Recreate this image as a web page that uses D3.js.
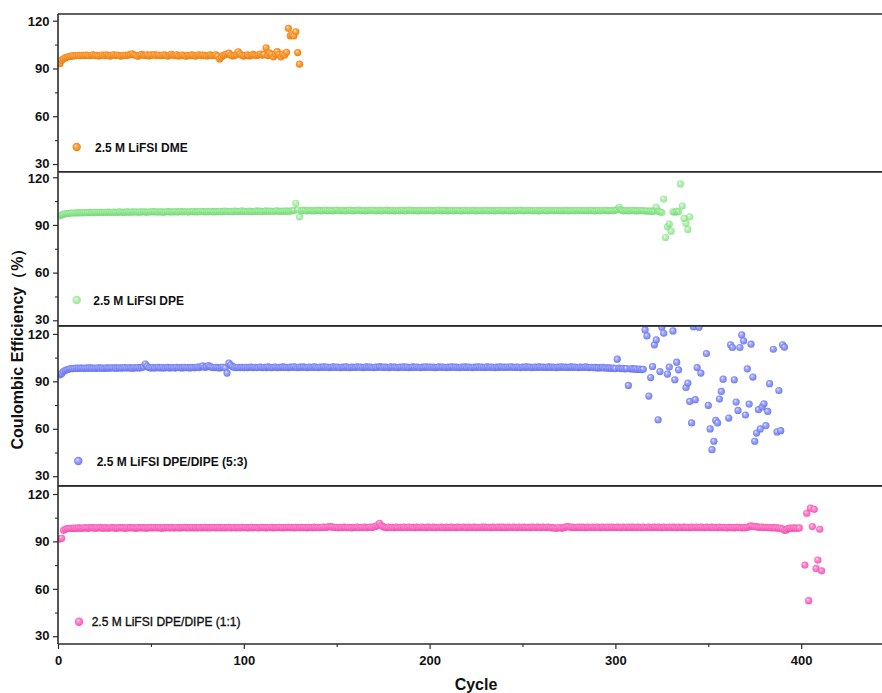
<!DOCTYPE html>
<html>
<head>
<meta charset="utf-8">
<script src="https://cdn.jsdelivr.net/npm/d3@7"></script>
<style>
  body { margin: 0; background: #fff; }
  svg text { font-family: "Liberation Sans", Arial, sans-serif; }
</style>
</head>
<body>
<svg id="chart" width="882" height="693"></svg>
<script>
// Coulombic efficiency (%) per cycle, index 0 = cycle 1; null = no visible point
const dmeCE = [
  93.0, 95.2, 96.1, 96.8, 97.2, 97.5, 97.7, 97.9, 98.0, 98.1,
  98.2, 98.0, 98.3, 98.1, 98.4, 98.2, 98.0, 98.3, 98.5, 98.1,
  98.2, 97.9, 98.3, 98.4, 98.1, 98.6, 98.2, 97.8, 98.3, 98.5,
  98.1, 98.4, 98.0, 97.8, 98.2, 98.3, 98.1, 98.5, 98.7, 99.2,
  98.6, 98.1, 97.6, 98.3, 98.8, 98.4, 98.2, 98.6, 97.9, 98.5,
  98.3, 98.7, 98.1, 98.4, 98.0, 98.3, 98.6, 98.2, 97.8, 98.4,
  98.9, 98.3, 98.1, 98.5, 97.9, 98.2, 98.4, 98.0, 97.6, 98.3,
  98.1, 98.5, 98.2, 97.8, 98.3, 98.6, 98.1, 98.4, 98.2, 97.9,
  98.3, 98.5, 98.0, 98.2, 98.6, 97.7, 96.0, 97.2, 98.3, 98.7,
  99.2, 99.6, 98.4, 97.9, 98.2, 98.8, 100.5, 99.1, 98.3, 97.8,
  98.2, 98.6, 97.9, 98.3, 98.8, 98.4, 98.1, 98.6, 99.1, 98.4,
  98.8, 103.0, 98.2, 99.6, 98.7, 97.3, 99.2, 100.6, 98.6, 97.3,
  99.0, 98.4, 100.2, 115.2, 110.5, 111.2, 110.5, 113.0, 100.0, 92.7
];

const dpeCE = [
  95.6, 96.3, 96.8, 97.0, 97.2, 97.3, 97.4, 97.5, 97.5, 97.6,
  97.6, 97.7, 97.6, 97.8, 97.7, 97.8, 97.9, 97.7, 97.8, 97.9,
  97.8, 98.0, 97.9, 97.8, 98.0, 97.9, 98.1, 97.9, 98.0, 98.1,
  97.9, 98.0, 98.2, 98.0, 98.1, 97.9, 98.2, 98.1, 98.0, 98.2,
  98.1, 98.3, 98.0, 98.2, 98.1, 98.3, 98.2, 98.0, 98.3, 98.1,
  98.4, 98.2, 98.3, 98.1, 98.3, 98.2, 98.0, 98.3, 98.4, 98.2,
  98.3, 98.1, 98.4, 98.2, 98.3, 98.5, 98.2, 98.4, 98.3, 98.1,
  98.4, 98.3, 98.5, 98.2, 98.4, 98.3, 98.6, 98.4, 98.2, 98.5,
  98.3, 98.6, 98.4, 98.2, 98.5, 98.4, 98.6, 98.3, 98.5, 98.7,
  98.4, 98.6, 98.5, 98.3, 98.7, 98.5, 98.4, 98.6, 98.8, 98.5,
  98.6, 98.4, 98.7, 98.5, 98.3, 98.6, 98.8, 98.5, 98.7, 98.4,
  98.6, 98.8, 98.5, 98.7, 98.6, 98.4, 98.7, 98.9, 98.6, 98.5,
  98.7, 98.6, 98.8, 98.5, 98.7, 98.9, 99.2, 103.6, 99.4, 95.1,
  98.8, 99.3, 99.0, 98.7, 99.2, 98.9, 99.1, 98.8, 99.0, 99.3,
  99.0, 98.8, 99.1, 99.3, 98.9, 99.0, 99.2, 98.8, 99.1, 99.4,
  99.0, 98.9, 99.2, 99.0, 98.8, 99.1, 99.3, 99.0, 98.9, 99.2,
  99.0, 99.3, 98.9, 99.1, 99.0, 98.8, 99.2, 99.0, 99.4, 99.1,
  98.9, 99.0, 99.2, 98.8, 99.1, 99.0, 99.3, 98.9, 99.0, 99.2,
  98.8, 99.1, 99.0, 98.9, 99.2, 99.0, 98.8, 99.1, 99.3, 99.0,
  98.9, 99.1, 99.0, 98.8, 99.2, 99.0, 99.1, 98.9, 99.0, 99.2,
  99.0, 98.8, 99.1, 99.0, 99.3, 98.9, 99.0, 99.2, 99.0, 98.8,
  99.1, 99.0, 98.9, 99.2, 99.0, 99.1, 98.8, 99.0, 99.2, 99.0,
  98.9, 99.1, 99.0, 99.2, 98.8, 99.0, 99.1, 98.9, 99.0, 99.2,
  99.0, 98.9, 99.1, 99.0, 98.8, 99.1, 99.0, 99.2, 98.9, 99.0,
  99.1, 99.0, 98.8, 99.0, 99.2, 98.9, 99.1, 99.0, 99.3, 99.0,
  98.9, 99.1, 99.0, 99.2, 99.0, 98.9, 99.1, 99.0, 98.8, 99.1,
  99.0, 99.2, 98.9, 99.0, 99.1, 99.0, 98.9, 99.2, 99.0, 99.1,
  98.9, 99.0, 99.2, 99.0, 98.8, 99.1, 99.0, 98.9, 99.1, 99.0,
  99.2, 98.9, 99.0, 99.1, 98.9, 99.0, 99.2, 99.0, 98.8, 99.1,
  99.0, 98.9, 99.1, 99.0, 99.2, 98.9, 99.0, 99.1, 98.9, 99.3,
  99.6, 101.1, 99.5, 99.0, 98.8, 99.1, 98.9, 99.0, 99.2, 98.9,
  99.0, 98.8, 99.1, 98.9, 99.0, 98.7, 98.9, 98.6, 98.8, 98.5,
  98.7, 101.1, 98.6, 98.3, 97.8, 106.3, 82.1, 88.8, 90.5, 86.1,
  98.3, 98.0, 98.5, 98.3, 115.8, 101.9, 94.1, 91.0, 87.2, 95.1
];

const dipe53CE = [
  94.0, 95.0, 96.3, 97.0, 97.5, 97.8, 98.0, 98.1, 98.2, 98.3,
  98.2, 98.4, 98.3, 98.2, 98.4, 98.3, 98.5, 98.3, 98.4, 98.2,
  98.4, 98.5, 98.3, 98.4, 98.2, 98.5, 98.4, 98.3, 98.6, 98.4,
  98.5, 98.3, 98.6, 98.4, 98.5, 98.7, 98.4, 98.6, 98.5, 98.3,
  98.6, 98.5, 98.7, 98.4, 98.8, 99.2, 100.9, 99.5, 98.6, 98.4,
  98.7, 98.5, 98.6, 98.8, 98.5, 98.7, 98.4, 98.6, 98.8, 98.5,
  98.7, 98.6, 98.4, 98.8, 98.6, 98.7, 98.5, 98.9, 98.6, 98.7,
  98.5, 98.8, 98.6, 98.7, 99.0, 98.6, 99.4, 99.8, 98.8, 99.2,
  99.9, 99.3, 98.8, 98.6, 98.9, 98.7, 98.5, 98.8, 98.9, 98.4,
  95.2, 101.5, 100.2, 99.3, 98.9, 98.7, 98.9, 98.6, 98.8, 98.7,
  98.9, 98.6, 98.8, 99.0, 98.7, 98.9, 98.6, 98.8, 99.0, 98.7,
  98.9, 98.7, 99.1, 98.8, 98.6, 98.9, 99.0, 98.7, 98.9, 98.8,
  99.1, 98.8, 98.9, 98.7, 99.0, 98.8, 99.2, 98.9, 98.7, 99.0,
  98.8, 99.1, 98.9, 98.7, 99.0, 98.9, 98.8, 99.1, 98.9, 98.7,
  99.0, 98.8, 99.1, 98.9, 99.0, 98.7, 98.9, 99.1, 98.8, 99.0,
  98.9, 98.7, 99.0, 98.8, 99.1, 98.9, 98.7, 99.0, 98.9, 98.8,
  99.1, 98.9, 99.0, 98.7, 98.9, 99.1, 98.8, 99.0, 98.9, 98.7,
  99.0, 98.8, 99.3, 99.0, 98.8, 99.0, 98.9, 98.7, 99.1, 98.9,
  99.0, 98.8, 98.7, 99.0, 98.9, 99.1, 98.8, 99.0, 98.7, 98.9,
  99.1, 98.8, 99.0, 98.9, 98.7, 99.0, 98.8, 99.1, 98.9, 99.0,
  98.8, 99.0, 98.7, 98.9, 99.1, 98.8, 99.0, 98.9, 98.7, 99.0,
  98.8, 99.1, 98.9, 99.0, 98.8, 98.7, 99.0, 98.9, 99.1, 98.8,
  99.0, 98.9, 98.7, 99.0, 98.8, 99.1, 98.9, 99.0, 98.8, 98.9,
  99.1, 98.8, 99.0, 98.9, 98.7, 99.0, 98.8, 99.1, 98.9, 99.0,
  98.8, 99.0, 98.9, 99.2, 98.9, 98.8, 99.0, 98.9, 98.7, 99.0,
  98.8, 99.1, 98.9, 99.0, 98.7, 98.9, 99.0, 98.8, 99.1, 98.9,
  99.0, 98.8, 98.9, 99.1, 98.8, 99.0, 98.9, 98.7, 99.0, 98.8,
  99.1, 98.9, 99.0, 98.8, 98.9, 99.1, 98.8, 99.0, 98.9, 98.7,
  99.0, 98.8, 98.9, 99.1, 98.8, 98.7, 98.9, 98.6, 98.8, 98.5,
  98.7, 98.5, 98.8, 98.4, 98.6, 98.3, 98.5, 98.2, 98.4, 98.1,
  104.0, 98.3, 98.0, 98.2, 97.9, 98.1, 87.4, 97.8, 98.0, 97.7,
  97.9, 97.5, 97.8, 97.4, 97.6, 122.5, 118.7, 80.7, 92.4, 99.4,
  113.1, 116.2, 65.7, 96.2, 124.2, 120.4, null, 94.6, 99.0, null,
  121.9, 91.0, 102.1, 97.3, null, null, null, 86.1, 88.9, 77.3,
  63.7, 124.6, 78.4, 98.7, 124.2, 95.2, null, null, 107.6, 74.8,
  59.9, 46.8, 52.1, 65.3, 63.7, 78.8, 83.6, 91.4, null, null,
  66.8, 113.1, 111.4, 91.0, 76.9, 71.6, 111.4, 119.4, 115.6, 68.7,
  97.9, 75.6, 113.5, 92.7, 52.1, 57.3, 72.1, 59.9, 73.8, 75.8,
  62.0, 71.0, 88.5, null, 110.3, null, 58.0, 84.2, 58.8, 113.1,
  111.6
];

const dipe11CE = [
  91.5, 92.0, 97.0, 97.8, 98.1, 98.2, 98.3, 98.2, 98.4, 98.3,
  98.5, 98.4, 98.3, 98.5, 98.6, 98.4, 98.5, 98.7, 98.5, 98.4,
  98.6, 98.5, 98.7, 98.4, 98.6, 98.5, 98.3, 98.6, 98.7, 98.5,
  98.4, 98.6, 98.5, 98.7, 98.6, 98.4, 98.6, 98.5, 98.7, 98.5,
  98.6, 98.4, 98.7, 98.6, 98.5, 98.7, 98.4, 98.6, 98.5, 98.7,
  98.6, 98.8, 98.5, 98.7, 98.6, 98.4, 98.7, 98.5, 98.8, 98.6,
  98.7, 98.5, 98.6, 98.8, 98.6, 98.5, 98.7, 98.9, 98.6, 98.7,
  98.5, 98.8, 98.6, 98.7, 98.5, 98.8, 98.6, 98.7, 98.9, 98.6,
  98.7, 98.5, 98.8, 98.7, 98.6, 98.9, 98.7, 98.5, 98.8, 98.6,
  98.7, 98.9, 98.6, 98.8, 98.7, 98.5, 98.8, 98.6, 98.9, 98.7,
  98.8, 98.6, 98.7, 98.9, 98.6, 98.8, 98.7, 98.5, 98.8, 98.9,
  98.7, 98.6, 98.8, 98.7, 98.9, 98.6, 98.8, 98.7, 98.9, 98.8,
  98.6, 98.8, 98.7, 98.9, 98.7, 98.8, 98.6, 98.9, 98.8, 98.7,
  98.9, 98.7, 98.8, 98.6, 98.9, 98.8, 98.7, 99.0, 98.8, 98.9,
  98.7, 98.9, 99.0, 98.8, 99.1, 99.3, 99.2, 99.0, 98.8, 98.9,
  98.7, 98.9, 98.8, 99.0, 98.7, 98.9, 98.8, 98.6, 98.9, 98.8,
  99.0, 98.7, 98.9, 98.8, 99.0, 98.7, 98.9, 99.1, 98.8, 99.2,
  99.5, 100.2, 101.5, 100.0, 99.3, 98.9, 98.7, 99.0, 98.8, 98.9,
  98.7, 99.0, 98.8, 98.9, 98.7, 99.0, 98.8, 98.9, 99.1, 98.8,
  98.9, 98.7, 99.0, 98.8, 98.9, 99.1, 98.8, 98.7, 99.0, 98.9,
  98.8, 99.0, 98.7, 98.9, 98.8, 99.1, 98.9, 98.7, 99.0, 98.8,
  98.9, 99.0, 98.8, 98.7, 99.0, 98.9, 98.8, 99.1, 98.9, 98.7,
  99.0, 98.8, 98.9, 99.0, 98.7, 98.9, 98.8, 99.1, 98.9, 99.0,
  98.8, 98.9, 98.7, 99.0, 98.8, 98.9, 99.1, 98.8, 99.0, 98.9,
  98.7, 99.0, 98.9, 98.8, 99.1, 98.9, 98.7, 99.0, 98.8, 98.9,
  99.0, 98.8, 98.9, 98.7, 99.0, 98.9, 98.8, 99.0, 98.9, 98.7,
  99.0, 98.8, 98.9, 99.1, 98.8, 98.6, 98.5, 98.3, 98.6, 98.8,
  98.3, 98.5, 99.0, 99.4, 99.2, 98.9, 99.0, 98.8, 98.9, 99.1,
  98.8, 99.0, 98.9, 98.7, 99.0, 98.8, 98.9, 99.1, 98.8, 99.0,
  98.9, 98.7, 99.0, 98.8, 98.9, 99.1, 98.8, 99.0, 98.9, 98.8,
  99.0, 98.9, 98.7, 99.0, 98.8, 98.9, 99.1, 98.8, 99.0, 98.9,
  98.8, 99.0, 98.9, 98.7, 99.0, 98.8, 98.9, 99.0, 98.8, 98.9,
  99.1, 98.8, 99.0, 98.9, 98.7, 99.0, 98.8, 98.9, 99.1, 98.8,
  99.0, 98.9, 98.7, 99.0, 98.8, 98.9, 99.0, 98.8, 98.9, 98.7,
  99.0, 98.8, 98.9, 99.1, 98.8, 99.0, 98.9, 98.7, 99.0, 98.8,
  98.9, 99.0, 98.8, 98.9, 98.7, 99.0, 98.8, 98.9, 98.8, 98.6,
  98.9, 98.7, 98.8, 98.6, 98.9, 98.7, 98.8, 98.5, 98.8, 98.6,
  98.9, 99.3, 99.8, 99.6, 99.4, 99.2, 99.0, 98.9, 99.1, 98.8,
  98.9, 98.7, 98.8, 98.6, 98.7, 98.5, 98.6, 98.4, 98.3, 97.8,
  97.0, 97.2, 98.2, 98.4, 98.3, 98.5, 98.4, 98.3, 98.5, null,
  null, 75.0, 107.8, 52.5, 111.0, 99.4, 110.3, 72.9, 78.2, 97.7,
  71.4
];

const seriesLabels = [
  "2.5 M LiFSI DME",
  "2.5 M LiFSI DPE",
  "2.5 M LiFSI DPE/DIPE (5:3)",
  "2.5 M LiFSI DPE/DIPE (1:1)"
];
const yTicks = [30, 60, 90, 120];
const yMinorTicks = [45, 75, 105];
const xTicks = [0, 100, 200, 300, 400];
const xMinorTicks = [50, 150, 250, 350];
const xTitle = "Cycle";
const yTitle = "Coulombic Efficiency（%）";

// ---- layout and styling ----
const W = 882, H = 693;
const left = 58;
const font = '"Liberation Sans", Arial, sans-serif';
const axisColor = "#2b2b2b";

const panels = [
  { data: dmeCE,    top: 14,    bottom: 171.7, lo: 25.2, hi: 124.2,
    colors: ["#fff1dc", "#ffab52", "#f68c1f", "#e27a10"], opacity: 1,
    legend: { mx: 76.7, my: 147, tx: 95, ty: 151.5, weight: "bold", stroke: 0 } },
  { data: dpeCE,    top: 171.7, bottom: 325.7, lo: 26.6, hi: 123.5,
    colors: ["#e6ffe6", "#a3f0a3", "#7fdf7f", "#6acd6a"], opacity: 0.7,
    legend: { mx: 76.7, my: 300, tx: 93.3, ty: 304.5, weight: "bold", stroke: 0 } },
  { data: dipe53CE, top: 326,   bottom: 485.7, lo: 24.0, hi: 125.0,
    colors: ["#f2f3ff", "#a3acff", "#7884f6", "#5f6ce2"], opacity: 0.95,
    legend: { mx: 78.3, my: 461, tx: 96.7, ty: 465.5, weight: "bold", stroke: 0 } },
  { data: dipe11CE, top: 486,   bottom: 644,   lo: 25.1, hi: 125.05,
    colors: ["#ffe6f5", "#ff90d2", "#fb60bb", "#e84aa6"], opacity: 0.95,
    legend: { mx: 79, my: 621.7, tx: 91.7, ty: 626, weight: "normal", stroke: 0.35 } }
];

const svg = d3.select("#chart");
const defs = svg.append("defs");

const x = d3.scaleLinear().domain([0, 443.5]).range([left, W]);

panels.forEach((p, i) => {
  // sphere-like shading for markers
  const grad = defs.append("radialGradient")
    .attr("id", "ball" + i)
    .attr("cx", "50%").attr("cy", "50%").attr("r", "55%")
    .attr("fx", "35%").attr("fy", "32%");
  [[0, p.colors[0]], [0.3, p.colors[1]], [0.75, p.colors[2]], [1, p.colors[3]]]
    .forEach(([o, c]) => grad.append("stop").attr("offset", o).attr("stop-color", c));

  defs.append("clipPath").attr("id", "clip" + i)
    .append("rect")
    .attr("x", left).attr("y", p.top)
    .attr("width", W - left).attr("height", p.bottom - p.top);

  const y = d3.scaleLinear().domain([p.lo, p.hi]).range([p.bottom, p.top]);
  const pts = p.data.map((v, k) => ({ c: k + 1, v })).filter(d => d.v != null);

  svg.append("g").attr("clip-path", `url(#clip${i})`)
    .selectAll("circle").data(pts).join("circle")
    .attr("cx", d => x(d.c))
    .attr("cy", d => y(d.v))
    .attr("r", 3.6)
    .attr("fill", `url(#ball${i})`)
    .attr("fill-opacity", p.opacity);

  // y axis: major and minor ticks
  const gy = svg.append("g").attr("transform", `translate(${left},0)`)
    .call(d3.axisLeft(y).tickValues(yTicks).tickSize(5).tickPadding(3.5).tickFormat(d3.format("d")));
  gy.select(".domain").remove();
  gy.selectAll("line").attr("stroke", axisColor).attr("stroke-width", 1.2);
  // labels at the panel edges are nudged apart so neighbouring panels' labels stay clear
  gy.selectAll("text").attr("font-family", font).attr("font-size", 13)
    .attr("font-weight", "bold").attr("fill", "#111")
    .attr("dy", d => d === 120 ? "0.38em" : d === 30 ? "0.26em" : "0.32em");

  const gym = svg.append("g").attr("transform", `translate(${left},0)`)
    .call(d3.axisLeft(y).tickValues(yMinorTicks).tickSize(3).tickFormat(""));
  gym.select(".domain").remove();
  gym.selectAll("line").attr("stroke", axisColor).attr("stroke-width", 1.1);

  // frame lines across the panel
  [p.top, p.bottom].forEach(yy => {
    svg.append("line")
      .attr("x1", left).attr("x2", W)
      .attr("y1", yy).attr("y2", yy)
      .attr("stroke", axisColor).attr("stroke-width", 1.6);
  });

  // legend entry
  svg.append("circle")
    .attr("cx", p.legend.mx).attr("cy", p.legend.my).attr("r", 4.2)
    .attr("fill", `url(#ball${i})`).attr("fill-opacity", p.opacity);
  const lt = svg.append("text")
    .attr("x", p.legend.tx).attr("y", p.legend.ty)
    .attr("font-family", font).attr("font-size", 12)
    .attr("font-weight", p.legend.weight).attr("fill", "#111")
    .text(seriesLabels[i]);
  if (p.legend.stroke) lt.attr("stroke", "#111").attr("stroke-width", p.legend.stroke);
});

// left axis line spanning all panels
svg.append("line")
  .attr("x1", left).attr("x2", left)
  .attr("y1", 14).attr("y2", 644)
  .attr("stroke", axisColor).attr("stroke-width", 1.6);

// x axis
const xBase = 644;
const gx = svg.append("g").attr("transform", `translate(0,${xBase})`)
  .call(d3.axisBottom(x).tickValues(xTicks).tickSize(5).tickPadding(6.5).tickFormat(d3.format("d")));
gx.select(".domain").remove();
gx.selectAll("line").attr("stroke", axisColor).attr("stroke-width", 1.2);
gx.selectAll("text").attr("font-family", font).attr("font-size", 13)
  .attr("font-weight", "bold").attr("fill", "#111");

const gxm = svg.append("g").attr("transform", `translate(0,${xBase})`)
  .call(d3.axisBottom(x).tickValues(xMinorTicks).tickSize(3).tickFormat(""));
gxm.select(".domain").remove();
gxm.selectAll("line").attr("stroke", axisColor).attr("stroke-width", 1.1);

// axis titles
svg.append("text")
  .attr("x", 476).attr("y", 689.5)
  .attr("text-anchor", "middle")
  .attr("font-family", font).attr("font-size", 16).attr("font-weight", "bold")
  .attr("fill", "#111")
  .text(xTitle);

svg.append("text")
  .attr("transform", "translate(23,345) rotate(-90)")
  .attr("text-anchor", "middle")
  .attr("font-family", font + ', "Noto Sans CJK SC"').attr("font-size", 16).attr("font-weight", "bold")
  .attr("fill", "#111")
  .text(yTitle);
</script>
</body>
</html>
